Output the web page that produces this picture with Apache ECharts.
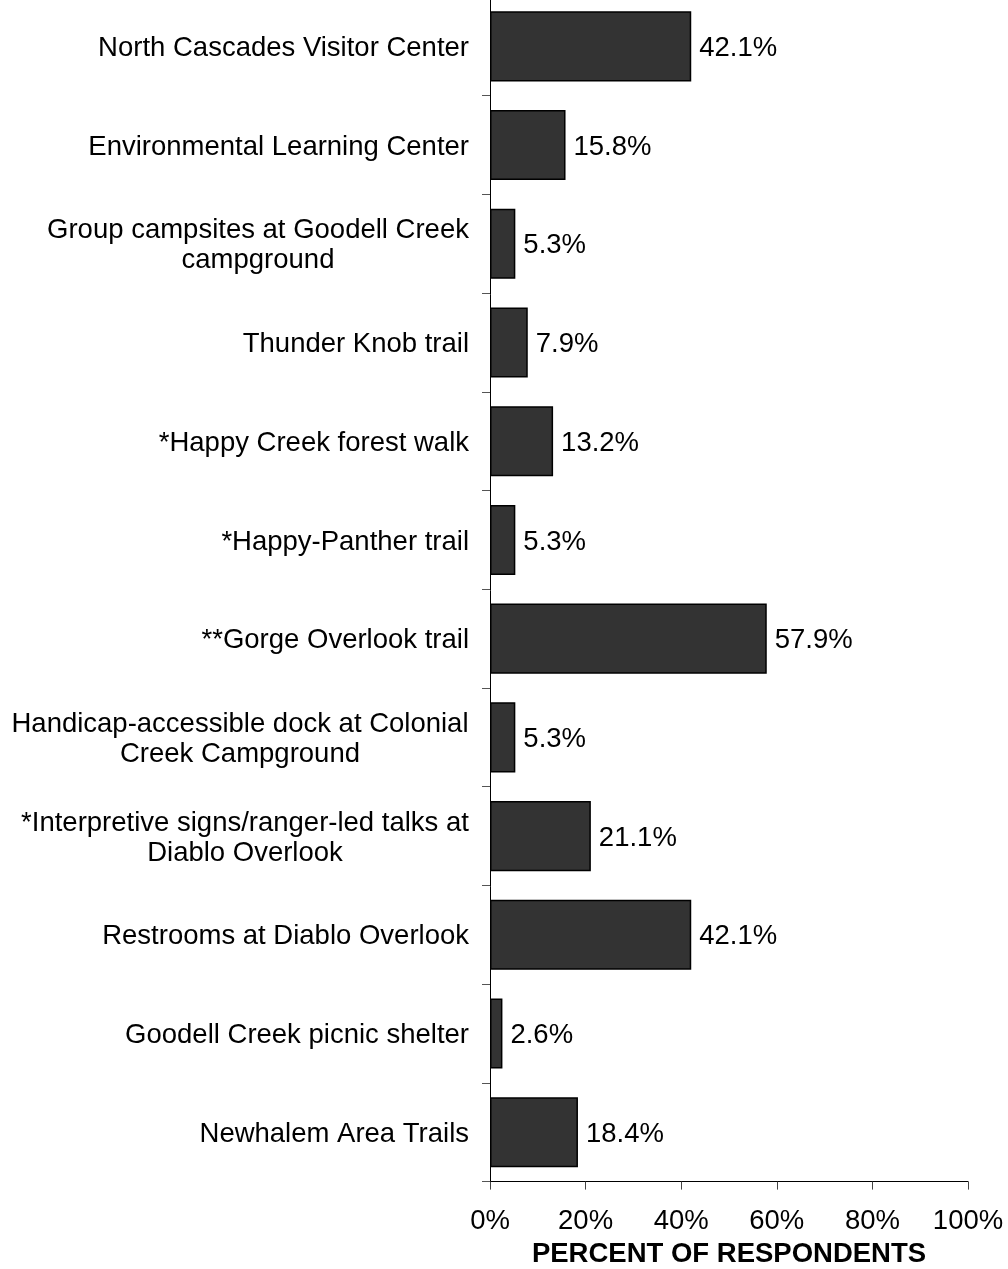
<!DOCTYPE html>
<html>
<head>
<meta charset="utf-8">
<script src="https://cdn.jsdelivr.net/npm/echarts@6/dist/echarts.min.js"></script>
<style>
html,body{margin:0;padding:0;background:#fff;}
#c{width:1008px;height:1269px;}
</style>
</head>
<body>
<div id="c"></div>
<script>
var categories = [
  "North Cascades Visitor Center",
  "Environmental Learning Center",
  "Group campsites at Goodell Creek\ncampground",
  "Thunder Knob trail",
  "*Happy Creek forest walk",
  "*Happy-Panther trail",
  "**Gorge Overlook trail",
  "Handicap-accessible dock at Colonial\nCreek Campground",
  "*Interpretive signs/ranger-led talks at\nDiablo Overlook",
  "Restrooms at Diablo Overlook",
  "Goodell Creek picnic shelter",
  "Newhalem Area Trails"
];
var values = [42.1, 15.8, 5.3, 7.9, 13.2, 5.3, 57.9, 5.3, 21.1, 42.1, 2.6, 18.4];
var xTicks = [0, 20, 40, 60, 80, 100];
var axisTitle = "PERCENT OF RESPONDENTS";

var FONT = "'Liberation Sans', Arial, sans-serif";
var FS = 27.5;

// measure line widths for centering multi-line labels
var cv = document.createElement('canvas').getContext('2d');
cv.font = FS + "px 'Liberation Sans', Arial, sans-serif";
var rich = {};
categories.forEach(function (c, i) {
  if (c.indexOf('\n') >= 0) {
    var w = 0;
    c.split('\n').forEach(function (l) { w = Math.max(w, cv.measureText(l).width); });
    rich['m' + i] = { width: Math.ceil(w), align: 'center', fontSize: FS, fontFamily: FONT, color: '#000', lineHeight: 30 };
  }
});

var chart = echarts.init(document.getElementById('c'));
chart.setOption({
  animation: false,
  backgroundColor: '#fff',
  grid: { left: 490, right: 40, top: -3, height: 1184.6, containLabel: false, outerBoundsMode: 'none' },
  xAxis: {
    type: 'value',
    min: xTicks[0], max: xTicks[xTicks.length - 1], interval: 20,
    splitLine: { show: false },
    axisLine: { show: true, lineStyle: { color: '#000', width: 1 } },
    axisTick: { show: true, length: 8, lineStyle: { color: '#444', width: 1 } },
    axisLabel: { formatter: '{value}%', fontSize: FS, fontFamily: FONT, color: '#000', margin: 26 },
    name: axisTitle,
    nameLocation: 'middle',
    nameGap: 58,
    nameTextStyle: { fontSize: FS, fontWeight: 'bold', fontFamily: FONT, color: '#000' }
  },
  yAxis: {
    type: 'category',
    data: categories,
    inverse: true,
    axisLine: { show: true, lineStyle: { color: '#000', width: 1 } },
    axisTick: { show: true, length: 8, lineStyle: { color: '#555', width: 1 } },
    axisLabel: {
      fontSize: FS, fontFamily: FONT, color: '#000', margin: 21, lineHeight: 30,
      padding: [4, 0, 0, 0],
      formatter: function (v, i) {
        if (v.indexOf('\n') >= 0) {
          var idx = categories.indexOf(v);
          return v.split('\n').map(function (l) { return '{m' + idx + '|' + l + '}'; }).join('\n');
        }
        return v;
      },
      rich: rich
    }
  },
  series: [{
    type: 'bar',
    data: values,
    barCategoryGap: '29%',
    itemStyle: { color: '#333333', borderColor: '#000', borderWidth: 1.5 },
    label: {
      show: true, position: 'right', distance: 8, offset: [0, 2],
      formatter: function (p) { return p.value.toFixed(1) + '%'; },
      fontSize: FS, fontFamily: FONT, color: '#000'
    }
  }]
});
</script>
</body>
</html>
